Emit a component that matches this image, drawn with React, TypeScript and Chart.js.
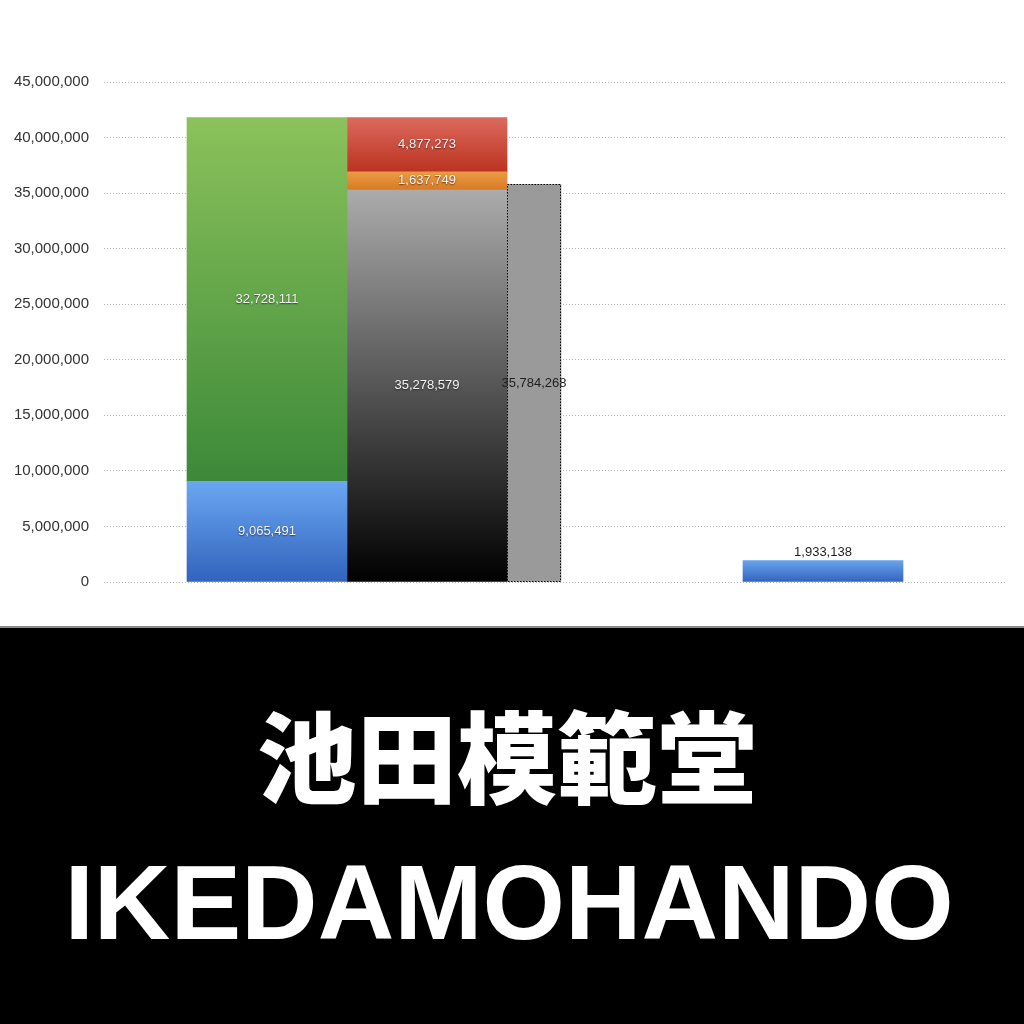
import React, { useEffect, useRef } from 'react';
import { Chart, registerables } from 'chart.js';

Chart.register(...registerables);

// ---------------- data ----------------
const assetLabels = ['流動資産', '固定資産'];
const assetValues = [9065491, 32728111];

const fundingLabels = ['純資産', '固定負債', '流動負債'];
const fundingValues = [35278579, 1637749, 4877273];

const salesLabels = ['売上高'];
const salesValues = [35784268];

const profitLabels = ['当期純利益'];
const profitValues = [1933138];

const yTickValues = [0, 5000000, 10000000, 15000000, 20000000, 25000000, 30000000, 35000000, 40000000, 45000000];

const titleJa = '池田模範堂';
const titleEn = 'IKEDAMOHANDO';

// ---------------- layout & style ----------------
const PAGE = 1024;
const CHART_H = 626;
const BAR_PX = 160;
const SALES_PX = 54;
const SLOT = { assets: 0, funding: 1, profit: 3.475 };
const X_MIN = -1.01875;
const X_MAX = 4.61875;

const assetColors: [string, string][] = [
  ['#6ba7f2', '#3163bd'],
  ['#8bc25b', '#3c8939'],
];
const fundingColors: [string, string][] = [
  ['#ababab', '#000000'],
  ['#ea9b42', '#d97a25'],
  ['#dc695e', '#bc3320'],
];
const salesColor = '#9a9a9a';
const profitColors: [string, string] = ['#68a3f0', '#3164bd'];

function gradientFill(top: string, bottom: string, low: number, high: number) {
  return (ctx: any) => {
    const chart = ctx.chart;
    const y = chart.scales && chart.scales.y;
    if (!chart.chartArea || !y) return bottom;
    const y0 = y.getPixelForValue(high);
    const y1 = y.getPixelForValue(low);
    const g = chart.ctx.createLinearGradient(0, y0, 0, y1);
    g.addColorStop(0, top);
    g.addColorStop(1, bottom);
    return g;
  };
}

function buildDatasets() {
  const ds: any[] = [];
  let acc = 0;
  assetValues.forEach((v, i) => {
    const low = acc;
    acc += v;
    ds.push({
      label: assetLabels[i],
      data: [{ x: SLOT.assets, y: v }],
      backgroundColor: gradientFill(assetColors[i][0], assetColors[i][1], low, acc),
      barThickness: BAR_PX,
      stack: 'total',
      labelMode: 'inside',
    });
  });
  acc = 0;
  fundingValues.forEach((v, i) => {
    const low = acc;
    acc += v;
    ds.push({
      label: fundingLabels[i],
      data: [{ x: SLOT.funding, y: v }],
      backgroundColor: gradientFill(fundingColors[i][0], fundingColors[i][1], low, acc),
      barThickness: BAR_PX,
      stack: 'total',
      labelMode: 'inside',
    });
  });
  const salesX = SLOT.funding + 0.5 + SALES_PX / BAR_PX / 2;
  salesValues.forEach((v, i) => {
    ds.push({
      label: salesLabels[i],
      data: [{ x: salesX, y: v }],
      backgroundColor: salesColor,
      barThickness: SALES_PX,
      stack: 'total',
      labelMode: 'insideDark',
      dottedBorder: true,
    });
  });
  profitValues.forEach((v, i) => {
    ds.push({
      label: profitLabels[i],
      data: [{ x: SLOT.profit, y: v }],
      backgroundColor: gradientFill(profitColors[0], profitColors[1], 0, v),
      barThickness: BAR_PX,
      stack: 'total',
      labelMode: 'above',
    });
  });
  return ds;
}

const dottedBorderPlugin = {
  id: 'dottedBorder',
  afterDatasetsDraw(chart: any) {
    const ctx = chart.ctx;
    chart.data.datasets.forEach((ds: any, i: number) => {
      if (!ds.dottedBorder) return;
      const meta = chart.getDatasetMeta(i);
      meta.data.forEach((el: any) => {
        const { x, y, base, width } = el.getProps(['x', 'y', 'base', 'width'], true);
        ctx.save();
        ctx.strokeStyle = '#000';
        ctx.lineWidth = 1;
        ctx.setLineDash([1.5, 1.5]);
        const left = Math.round(x - width / 2) + 0.5;
        const right = Math.round(x + width / 2) - 0.5;
        const top = Math.round(y) + 0.5;
        const bottom = Math.round(base) - 0.5;
        ctx.strokeRect(left, top, right - left, bottom - top);
        ctx.restore();
      });
    });
  },
};

const valueLabelPlugin = {
  id: 'valueLabels',
  afterDatasetsDraw(chart: any) {
    const ctx = chart.ctx;
    chart.data.datasets.forEach((ds: any, i: number) => {
      const meta = chart.getDatasetMeta(i);
      meta.data.forEach((el: any, j: number) => {
        const { x, y, base } = el.getProps(['x', 'y', 'base'], true);
        const value = ds.data[j].y as number;
        const text = value.toLocaleString('en-US');
        ctx.save();
        ctx.font = '13px "Liberation Sans", Arial, sans-serif';
        ctx.textAlign = 'center';
        ctx.textBaseline = 'middle';
        if (ds.labelMode === 'inside') {
          ctx.shadowColor = 'rgba(0,0,0,0.55)';
          ctx.shadowBlur = 1.5;
          ctx.shadowOffsetY = 1;
          ctx.fillStyle = '#f4f4f4';
          ctx.fillText(text, x, (y + base) / 2);
        } else if (ds.labelMode === 'insideDark') {
          ctx.fillStyle = '#1e1e1e';
          ctx.fillText(text, x, (y + base) / 2);
        } else {
          ctx.fillStyle = '#1e1e1e';
          ctx.fillText(text, x, y - 8);
        }
        ctx.restore();
      });
    });
  },
};

export default function App() {
  const canvasRef = useRef<HTMLCanvasElement>(null);

  useEffect(() => {
    const canvas = canvasRef.current;
    if (!canvas) return;
    const chart = new Chart(canvas, {
      type: 'bar',
      data: { datasets: buildDatasets() },
      options: {
        responsive: false,
        animation: false,
        devicePixelRatio: 1,
        layout: { padding: { top: 82, right: 18, bottom: 44, left: 0 } },
        plugins: {
          legend: { display: false },
          tooltip: { enabled: false },
          title: { display: false },
        },
        scales: {
          x: {
            type: 'linear',
            display: false,
            min: X_MIN,
            max: X_MAX,
            offset: false,
          },
          y: {
            stacked: true,
            min: 0,
            max: 45000000,
            afterFit: (s: any) => {
              s.width = 104;
            },
            afterBuildTicks: (s: any) => {
              s.ticks = yTickValues.map((value) => ({ value }));
            },
            border: { display: false, dash: [1, 2] },
            grid: { color: '#b4b4b4', lineWidth: 1, drawTicks: false },
            ticks: {
              padding: 15,
              color: '#333333',
              font: { family: '"Liberation Sans", Arial, sans-serif', size: 15 },
              callback: (v: any) => Number(v).toLocaleString('en-US'),
            },
          },
        },
      } as any,
      plugins: [dottedBorderPlugin, valueLabelPlugin],
    });
    return () => chart.destroy();
  }, []);

  return (
    <div
      style={{
        position: 'absolute',
        left: 0,
        top: 0,
        width: PAGE,
        height: PAGE,
        background: '#ffffff',
        overflow: 'hidden',
      }}
    >
      <canvas
        ref={canvasRef}
        width={PAGE}
        height={CHART_H}
        style={{ display: 'block', width: PAGE, height: CHART_H }}
      />
      <div style={{ height: 2, background: '#8a8a8a' }} />
      <div style={{ position: 'relative', height: PAGE - CHART_H - 2, background: '#000000' }}>
        <div
          style={{
            position: 'absolute',
            left: -5,
            top: 75,
            width: PAGE,
            textAlign: 'center',
            color: '#ffffff',
            fontFamily: '"Noto Sans CJK JP", sans-serif',
            fontWeight: 900,
            fontSize: 100,
            lineHeight: '100px',
            whiteSpace: 'nowrap',
          }}
        >
          {titleJa}
        </div>
        <div
          style={{
            position: 'absolute',
            left: -3,
            top: 221,
            width: PAGE,
            textAlign: 'center',
            color: '#ffffff',
            fontFamily: '"Liberation Sans", Arial, sans-serif',
            fontWeight: 700,
            fontSize: 106,
            lineHeight: '106px',
            whiteSpace: 'nowrap',
          }}
        >
          {titleEn}
        </div>
      </div>
    </div>
  );
}
